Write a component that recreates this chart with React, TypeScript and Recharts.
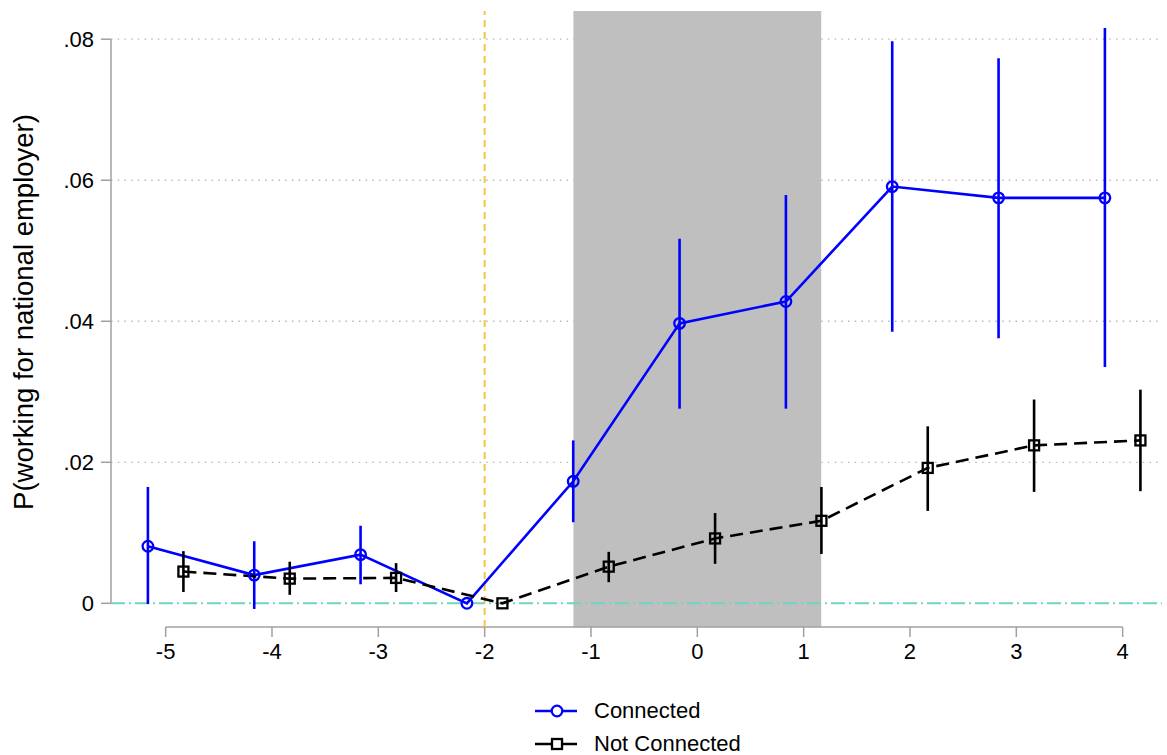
import React from 'react';
import {
  ComposedChart,
  Line,
  ErrorBar,
  XAxis,
  YAxis,
  CartesianGrid,
  ReferenceLine,
  ReferenceArea,
} from 'recharts';

// event time (periods relative to the event)
const periods = [-5, -4, -3, -2, -1, 0, 1, 2, 3, 4];

// Connected: point estimates and 95% CI bounds
const connectedEst = [0.0081, 0.004, 0.0069, 0, 0.0173, 0.0397, 0.0428, 0.0591, 0.0575, 0.0575];
const connectedLo = [-0.0001, -0.0008, 0.0027, 0, 0.0115, 0.0276, 0.0276, 0.0385, 0.0376, 0.0335];
const connectedHi = [0.0165, 0.0088, 0.011, 0, 0.0231, 0.0517, 0.0579, 0.0797, 0.0773, 0.0816];

// Not Connected: point estimates and 95% CI bounds
const notConnEst = [0.0045, 0.0035, 0.0036, 0, 0.0052, 0.0092, 0.0117, 0.0192, 0.0224, 0.0231];
const notConnLo = [0.0016, 0.0012, 0.0016, 0, 0.003, 0.0056, 0.007, 0.0131, 0.0158, 0.0159];
const notConnHi = [0.0074, 0.0059, 0.0057, 0, 0.0073, 0.0128, 0.0165, 0.0251, 0.0289, 0.0303];

const xTicks = [-5, -4, -3, -2, -1, 0, 1, 2, 3, 4];
const yTicks = [0, 0.02, 0.04, 0.06, 0.08];

const X_DOMAIN: [number, number] = [-5.514, 4.37];
const Y_DOMAIN: [number, number] = [-0.00336, 0.084];
const OFFSET = 0.167;

const FONT = '"Liberation Sans", Arial, Helvetica, sans-serif';
const AXIS_GRAY = '#a0a0a0';
const BLUE = '#0000ff';

const connectedData = periods.map((p, i) => ({
  x: p - OFFSET,
  y: connectedEst[i],
  err: [connectedEst[i] - connectedLo[i], connectedHi[i] - connectedEst[i]],
}));

const notConnData = periods.map((p, i) => ({
  x: p + OFFSET,
  y: notConnEst[i],
  err: [notConnEst[i] - notConnLo[i], notConnHi[i] - notConnEst[i]],
}));

const fmtY = (v: number) => (v === 0 ? '0' : String(v.toFixed(2)).replace(/^0/, ''));

const SquareDot = (props: any) => {
  const { cx, cy, index } = props;
  if (cx == null || cy == null) return <g key={`sq-${index}`} />;
  return (
    <rect
      key={`sq-${index}`}
      x={cx - 5}
      y={cy - 5}
      width={10}
      height={10}
      fill="none"
      stroke="#000"
      strokeWidth={2.3}
    />
  );
};

const YLabel = () => (
  <text
    x={33}
    y={312}
    transform="rotate(-90 33 312)"
    textAnchor="middle"
    fontSize={27.5}
    fontFamily={FONT}
    fill="#000"
  >
    P(working for national employer)
  </text>
);

function LegendBox() {
  const row = (label: string, color: string, square: boolean) => (
    <div style={{ display: 'flex', alignItems: 'center', height: 33 }}>
      <svg width={59} height={20}>
        <line x1={0} y1={10} x2={42} y2={10} stroke={color} strokeWidth={2.6} />
        {square ? (
          <rect x={17} y={5} width={10} height={10} fill="#fff" stroke={color} strokeWidth={2.3} />
        ) : (
          <circle cx={22} cy={10} r={5.3} fill="#fff" stroke={color} strokeWidth={2.3} />
        )}
      </svg>
      <span style={{ fontFamily: FONT, fontSize: 22, color: '#000', lineHeight: '20px' }}>{label}</span>
    </div>
  );
  return (
    <div style={{ position: 'absolute', left: 535, top: 694 }}>
      {row('Connected', BLUE, false)}
      {row('Not Connected', '#000', true)}
    </div>
  );
}

export default function App() {
  return (
    <div style={{ position: 'absolute', left: 0, top: 0, width: 1167, height: 755, background: '#fff' }}>
      <ComposedChart
        width={1167}
        height={755}
        margin={{ top: 11, right: 5, bottom: 0, left: 0 }}
      >
        <CartesianGrid
          horizontal
          vertical={false}
          horizontalValues={[0.02, 0.04, 0.06, 0.08]}
          stroke="#b8b8b8"
          strokeDasharray="1.5 5.2"
          strokeWidth={1.3}
        />
        <XAxis
          type="number"
          dataKey="x"
          domain={X_DOMAIN}
          ticks={xTicks}
          allowDataOverflow
          height={128}
          axisLine={false}
          tickLine={{ stroke: AXIS_GRAY, strokeWidth: 1.5 }}
          tickSize={10}
          tickMargin={6}
          tick={{ fill: '#000', fontSize: 22, fontFamily: FONT }}
        />
        <YAxis
          type="number"
          domain={Y_DOMAIN}
          ticks={yTicks}
          allowDataOverflow
          width={111}
          axisLine={false}
          tickLine={{ stroke: AXIS_GRAY, strokeWidth: 1.5 }}
          tickSize={10}
          tickMargin={7}
          tickFormatter={fmtY}
          tick={{ fill: '#000', fontSize: 22, fontFamily: FONT }}
          label={<YLabel />}
        />
        <ReferenceArea
          x1={-1.165}
          x2={1.165}
          fill="#bfbfbf"
          fillOpacity={1}
          stroke="none"
        />
        {/* axis lines drawn Stata-style: only between the outer ticks */}
        <ReferenceLine
          segment={[{ x: X_DOMAIN[0], y: 0 }, { x: X_DOMAIN[0], y: 0.08 }]}
          stroke={AXIS_GRAY}
          strokeWidth={1.5}
        />
        <ReferenceLine
          segment={[{ x: -5, y: Y_DOMAIN[0] }, { x: 4, y: Y_DOMAIN[0] }]}
          stroke={AXIS_GRAY}
          strokeWidth={1.5}
        />
        <ReferenceLine y={0} stroke="#6fd4c4" strokeWidth={2} strokeDasharray="14 4 2 4" />
        <ReferenceLine x={-2} stroke="#f4c443" strokeWidth={2} strokeDasharray="7 5" />
        <Line
          data={connectedData}
          dataKey="y"
          type="linear"
          stroke={BLUE}
          strokeWidth={2.6}
          dot={{ r: 5.3, stroke: BLUE, strokeWidth: 2.3, fill: 'none' }}
          activeDot={false}
          isAnimationActive={false}
        >
          <ErrorBar dataKey="err" width={0} stroke={BLUE} strokeWidth={2.6} direction="y" isAnimationActive={false} />
        </Line>
        <Line
          data={notConnData}
          dataKey="y"
          type="linear"
          stroke="#000"
          strokeWidth={2.6}
          strokeDasharray="13 7"
          dot={SquareDot}
          activeDot={false}
          isAnimationActive={false}
        >
          <ErrorBar dataKey="err" width={0} stroke="#000" strokeWidth={2.6} direction="y" isAnimationActive={false} />
        </Line>
      </ComposedChart>
      <LegendBox />
    </div>
  );
}
